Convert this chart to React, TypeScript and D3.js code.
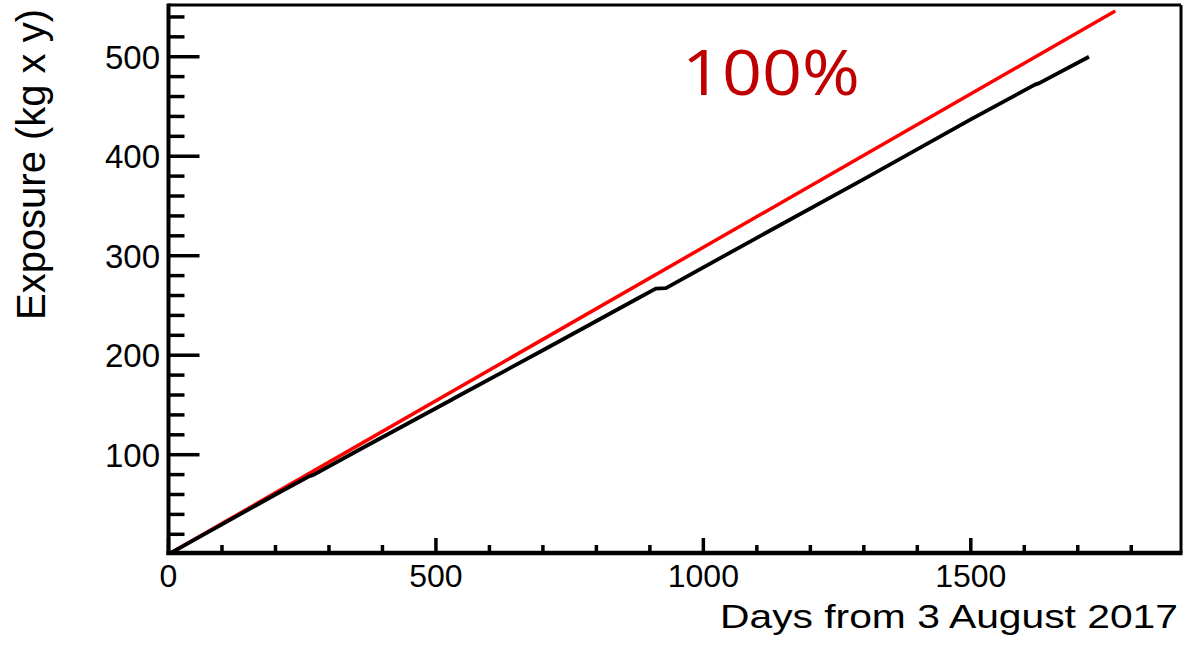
import React from "react";
import * as d3 from "d3";

const exposureDays = [0, 100, 200, 262, 272, 360, 525, 535, 700, 877, 911, 930, 1100, 1300, 1500, 1620, 1628, 1721];
const exposureValues = [0, 30, 60, 78, 80, 106, 154, 157, 205, 257, 267, 267.5, 318, 377, 437, 472, 473.5, 500];
const fullDays = [0, 1770];
const fullValues = [0, 546];
const xMajorTicks = [0, 500, 1000, 1500];
const yMajorTicks = [100, 200, 300, 400, 500];
const xLabel = "Days from 3 August 2017";
const yLabel = "Exposure (kg x y)";
const annotation = "100%";

const W = 1186;
const H = 645;
const L = 168.5, R = 1181, T = 5, B = 553;

export default function App() {
  const x = d3.scaleLinear().domain([0, 1893]).range([L, R]);
  const y = d3.scaleLinear().domain([1.2, 552]).range([B, T]);
  const line = d3
    .line<[number, number]>()
    .x((d) => x(d[0]))
    .y((d) => y(d[1]));
  const blackPts = exposureDays.map((d, i) => [d, exposureValues[i]] as [number, number]);
  const redPts = fullDays.map((d, i) => [d, fullValues[i]] as [number, number]);
  const xMinor = d3.range(0, 1893, 100).filter((v) => !xMajorTicks.includes(v));
  const yMinor = d3.range(20, 552, 20).filter((v) => !yMajorTicks.includes(v));
  const font = "'Liberation Sans', Arial, sans-serif";

  return (
    <div style={{ position: "fixed", left: 0, top: 0 }}>
      <svg width={W} height={H} style={{ display: "block", background: "#fff" }}>
        <defs>
          <clipPath id="plotclip">
            <rect x={L} y={T} width={R - L} height={B - T + 2} />
          </clipPath>
        </defs>
        <g clipPath="url(#plotclip)">
          <path d={line(redPts) || ""} fill="none" stroke="#ff0000" strokeWidth={3.5} />
          <path d={line(blackPts) || ""} fill="none" stroke="#000" strokeWidth={3.8} strokeLinejoin="round" />
        </g>
        {/* frame */}
        <line x1={L} x2={R} y1={T} y2={T} stroke="#000" strokeWidth={3} />
        <line x1={R} x2={R} y1={T} y2={B} stroke="#000" strokeWidth={3} />
        <line x1={L} x2={L} y1={T - 1.5} y2={B + 2} stroke="#000" strokeWidth={4} />
        <line x1={L - 2} x2={R + 1.5} y1={B} y2={B} stroke="#000" strokeWidth={4.5} />
        {/* y ticks */}
        {yMajorTicks.map((v) => (
          <g key={"ym" + v}>
            <line x1={L} x2={L + 31} y1={y(v)} y2={y(v)} stroke="#000" strokeWidth={3.5} />
            <text x={160} y={y(v)} dy="0.36em" textAnchor="end" fontFamily={font} fontSize={33} fill="#000">
              {v}
            </text>
          </g>
        ))}
        {yMinor.map((v) => (
          <line key={"yn" + v} x1={L} x2={L + 16} y1={y(v)} y2={y(v)} stroke="#000" strokeWidth={3.5} />
        ))}
        {/* x ticks */}
        {xMajorTicks.map((v) => (
          <g key={"xm" + v}>
            <line x1={x(v)} x2={x(v)} y1={B} y2={B - 15} stroke="#000" strokeWidth={3.5} />
            <text x={x(v)} y={587} textAnchor="middle" fontFamily={font} fontSize={32} fill="#000">
              {v}
            </text>
          </g>
        ))}
        {xMinor.map((v) => (
          <line key={"xn" + v} x1={x(v)} x2={x(v)} y1={B} y2={B - 8} stroke="#000" strokeWidth={3.5} />
        ))}
        {/* axis titles */}
        <text
          x={1178}
          y={628}
          textAnchor="end"
          fontFamily={font}
          fontSize={33}
          textLength={458}
          lengthAdjust="spacingAndGlyphs"
          fill="#000"
        >
          {xLabel}
        </text>
        <text
          transform="translate(45,9) rotate(-90)"
          textAnchor="end"
          fontFamily={font}
          fontSize={40}
          textLength={311}
          lengthAdjust="spacingAndGlyphs"
          fill="#000"
        >
          {yLabel}
        </text>
        <text
          x={682}
          y={95}
          fontFamily="'Open Sans', 'DejaVu Sans', sans-serif"
          fontSize={63}
          textLength={178}
          lengthAdjust="spacingAndGlyphs"
          fill="#c00000"
        >
          {annotation}
        </text>
      </svg>
    </div>
  );
}
